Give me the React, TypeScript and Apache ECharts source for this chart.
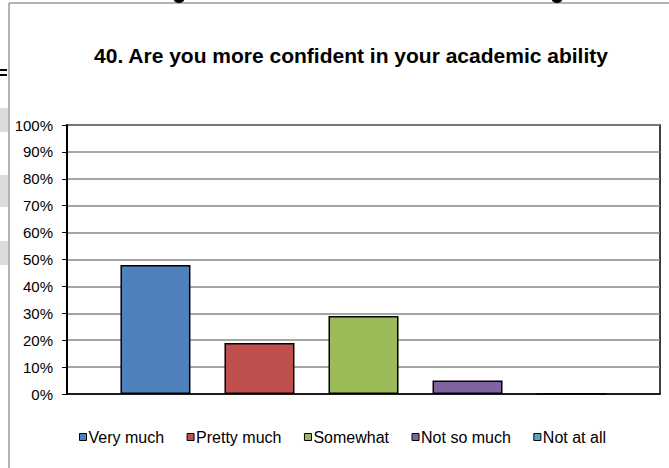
import React, { useEffect, useRef } from "react";
import * as echarts from "echarts";

const title = "40. Are you more confident in your academic ability";
const seriesNames = ["Very much", "Pretty much", "Somewhat", "Not so much", "Not at all"];
const seriesValues = [48, 19, 29, 5, 0];
const seriesColors = ["#4F81BD", "#C0504D", "#9BBB59", "#8064A2", "#4BACC6"];
const yTicks = [0, 10, 20, 30, 40, 50, 60, 70, 80, 90, 100];

export default function App() {
  const ref = useRef<HTMLDivElement>(null);
  useEffect(() => {
    const chart = echarts.init(ref.current!, null, { renderer: "svg" });
    const font = "Arial, 'Liberation Sans', sans-serif";
    chart.setOption({
      animation: false,
      backgroundColor: "#ffffff",
      textStyle: { fontFamily: font },
      title: {
        text: title,
        left: 346,
        textAlign: "center",
        top: 40,
        textStyle: { fontSize: 21, fontWeight: "bold", color: "#000", fontFamily: font },
      },
      legend: {
        data: seriesNames,
        top: 424,
        left: 74,
        icon: "rect",
        itemWidth: 7,
        itemHeight: 7,
        itemGap: 22.5,
        textStyle: { fontSize: 16, color: "#000", padding: [0, 0, 0, -3] },
        itemStyle: { borderColor: "#000", borderWidth: 1 },
      },
      grid: {
        left: 67,
        right: 9,
        top: 125,
        bottom: 74,
        show: true,
        borderColor: "#000",
        borderWidth: 1.5,
        containLabel: false,
      },
      xAxis: {
        type: "category",
        data: [""],
        axisLine: { lineStyle: { color: "#000", width: 1.5 } },
        axisTick: { show: false },
        axisLabel: { show: false },
      },
      yAxis: {
        type: "value",
        min: yTicks[0],
        max: yTicks[yTicks.length - 1],
        interval: 10,
        axisLine: { show: true, lineStyle: { color: "#000", width: 2 } },
        axisTick: { show: true, inside: false, length: 5, lineStyle: { color: "#000", width: 1 } },
        axisLabel: { formatter: "{value}%", fontSize: 15, color: "#000", margin: 14 },
        splitLine: { lineStyle: { color: "#888", width: 1.5 } },
      },
      graphic: [
        { type: "line", shape: { x1: 9, y1: 3, x2: 669, y2: 3 }, style: { stroke: "#999", lineWidth: 1.5 } },
        { type: "line", shape: { x1: 9, y1: 3, x2: 9, y2: 468 }, style: { stroke: "#999", lineWidth: 1.5 } },
        { type: "rect", shape: { x: 0, y: 108, width: 8, height: 24 }, style: { fill: "#dcdcdc" } },
        { type: "rect", shape: { x: 0, y: 175, width: 8, height: 32 }, style: { fill: "#dcdcdc" } },
        { type: "rect", shape: { x: 0, y: 241, width: 8, height: 24 }, style: { fill: "#dcdcdc" } },
        { type: "rect", shape: { x: 0, y: 69, width: 7, height: 2 }, style: { fill: "#000" } },
        { type: "rect", shape: { x: 0, y: 74, width: 7, height: 2 }, style: { fill: "#000" } },
        { type: "ellipse", shape: { cx: 179, cy: 0, rx: 5, ry: 3 }, style: { fill: "#000" } },
        { type: "ellipse", shape: { cx: 557, cy: 0, rx: 5, ry: 3 }, style: { fill: "#000" } },
      ],
      series: seriesNames.map((name, i) => ({
        name,
        type: "bar",
        data: [seriesValues[i]],
        barWidth: 70,
        barGap: "48.6%",
        itemStyle: { color: seriesColors[i], borderColor: "#000", borderWidth: 1.5 },
      })),
    });
    return () => chart.dispose();
  }, []);
  return (
    <div
      ref={ref}
      style={{ position: "fixed", left: 0, top: 0, width: 669, height: 468 }}
    />
  );
}
